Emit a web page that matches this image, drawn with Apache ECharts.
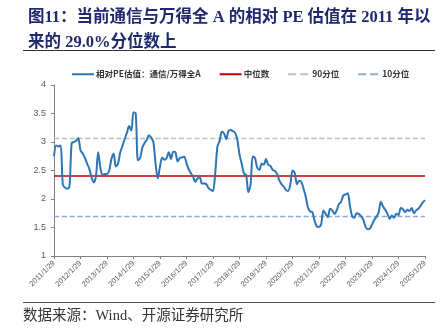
<!DOCTYPE html>
<html><head><meta charset="utf-8">
<script src="https://cdn.jsdelivr.net/npm/echarts@6/dist/echarts.min.js"></script>
<style>html,body{margin:0;padding:0;background:#fff;}#c{width:445px;height:335px;}</style>
</head><body><div id="c"></div>
<script>
const startYear = 2011;
const monthCount = 169;
const categories = [];
for (let i = 0; i < monthCount; i++) {
  categories.push((startYear + Math.floor(i / 12)) + '/' + (i % 12 + 1) + '/29');
}
const relPE = [
  2.75,2.94,2.92,2.94,2.25,2.20,2.18,2.22,2.98,3.00,3.02,3.07,
  2.85,2.80,2.72,2.62,2.53,2.38,2.29,2.40,2.82,2.55,2.42,2.44,
  2.44,2.50,2.70,2.80,2.57,2.62,2.82,2.93,3.05,3.16,3.28,3.20,
  3.52,3.50,2.68,2.72,2.90,2.98,3.04,3.12,3.08,3.00,2.62,2.36,
  2.57,2.73,2.69,2.72,2.82,2.70,2.83,2.82,2.66,2.72,2.73,2.74,
  2.63,2.52,2.45,2.39,2.30,2.36,2.38,2.27,2.27,2.26,2.19,2.16,
  2.14,2.45,2.92,3.02,3.18,3.15,3.05,3.19,3.21,3.19,3.16,3.04,
  2.78,2.62,2.45,2.42,2.12,2.25,2.75,2.72,2.55,2.51,2.62,2.60,
  2.70,2.60,2.58,2.51,2.49,2.44,2.33,2.26,2.22,2.16,2.14,2.25,
  2.50,2.46,2.26,2.32,2.30,2.18,2.04,1.85,1.78,1.77,1.62,1.52,
  1.51,1.56,1.80,1.74,1.68,1.83,1.80,1.74,1.80,1.91,1.95,2.06,
  2.08,2.10,1.88,1.70,1.67,1.75,1.74,1.70,1.64,1.52,1.47,1.48,
  1.55,1.63,1.69,1.76,1.95,1.87,1.81,1.74,1.65,1.71,1.67,1.74,
  1.72,1.84,1.82,1.77,1.81,1.79,1.84,1.75,1.80,1.83,1.88,1.94,
  1.98
];
const medianVal = 2.41;
const p90Val = 3.06;
const p10Val = 1.70;
const seriesNames = ['相对PE估值：通信/万得全A', '中位数', '90分位', '10分位'];
const yTicks = [1, 1.5, 2, 2.5, 3, 3.5, 4];

const chart = echarts.init(document.getElementById('c'), null, {renderer: 'canvas'});
function refLine(name, val, color, type) {
  return {
    name: name, type: 'line', data: [], symbol: 'none', showSymbol: false, color: color,
    lineStyle: {color: color, width: type === 'solid' ? 1.5 : 1.3, type: type},
    markLine: {
      silent: true, symbol: 'none', label: {show: false},
      lineStyle: {color: color, width: type === 'solid' ? 1.5 : 1.3, type: type},
      data: [{yAxis: val}]
    }
  };
}
chart.setOption({
  animation: false,
  backgroundColor: '#fff',
  title: {
    text: '图11：当前通信与万得全 A 的相对 PE 估值在 2011 年以\n来的 29.0%分位数上',
    left: 23, top: 0,
    textStyle: {fontFamily: '"Liberation Serif","Noto Sans CJK SC"', fontSize: 16.5, fontWeight: 'bold', color: '#1F2A6E', lineHeight: 25}
  },
  graphic: [
    {type: 'line', shape: {x1: 23, y1: 50.5, x2: 435, y2: 50.5}, style: {stroke: '#333', lineWidth: 1}},
    {type: 'line', shape: {x1: 23, y1: 302.5, x2: 435, y2: 302.5}, style: {stroke: '#555', lineWidth: 1}},
    {type: 'text', left: 23, top: 309, style: {text: '数据来源：Wind、开源证券研究所', font: '14.5px "Liberation Serif","Noto Sans CJK SC"', fill: '#333'}}
  ],
  legend: {
    left: 66, top: 65, width: 370, itemWidth: 22, itemHeight: 8, itemGap: 18,
    data: seriesNames,
    itemStyle: {opacity: 0},
    textStyle: {fontSize: 8.5, color: '#333', fontWeight: 'bold', fontFamily: '"Noto Sans CJK SC", Arial', padding: [0, 0, 0, -3]}
  },
  grid: {left: 54, right: 20, top: 85, bottom: 79},
  xAxis: {
    type: 'category', data: categories, boundaryGap: false,
    axisLine: {lineStyle: {color: '#808080'}},
    axisTick: {interval: 11, length: 3, lineStyle: {color: '#808080'}},
    axisLabel: {interval: 11, rotate: 45, fontSize: 7.5, color: '#595959', margin: 6, fontFamily: 'Arial'}
  },
  yAxis: {
    type: 'value', min: 1, max: 4, interval: 0.5,
    axisLine: {show: true, lineStyle: {color: '#808080'}},
    axisTick: {show: true, length: 3, lineStyle: {color: '#808080'}},
    splitLine: {show: false},
    axisLabel: {fontSize: 9, color: '#595959', margin: 8, fontFamily: 'Arial',
      formatter: function (v) { return yTicks.indexOf(v) >= 0 ? String(v) : ''; }}
  },
  series: [
    {name: seriesNames[0], type: 'line', data: relPE, symbol: 'none', smooth: 0.3, color: '#2E75B6',
     lineStyle: {color: '#2E75B6', width: 2}, z: 5},
    refLine(seriesNames[1], medianVal, '#C00000', 'solid'),
    refLine(seriesNames[2], p90Val, '#BFBFBF', 'dashed'),
    refLine(seriesNames[3], p10Val, '#8FAADC', 'dashed')
  ]
});
</script></body></html>
